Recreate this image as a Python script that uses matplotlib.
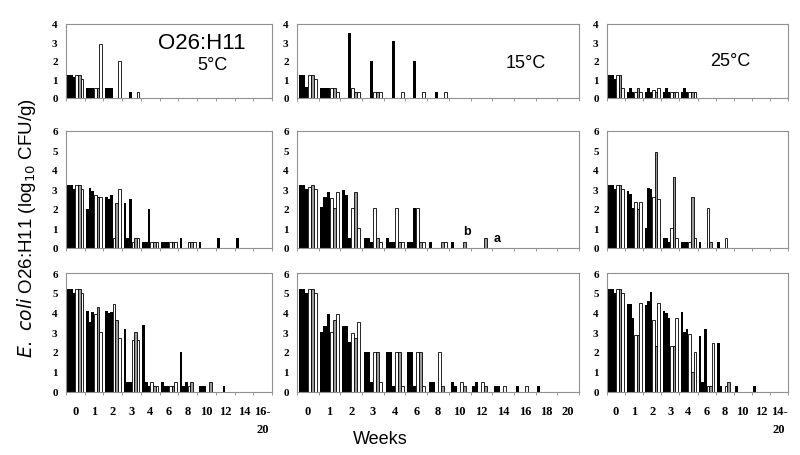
import matplotlib
matplotlib.use("Agg")
import matplotlib.pyplot as plt
import numpy as np

# categories (weeks)
weeks_5C = ["0", "1", "2", "3", "4", "6", "8", "10", "12", "14", "16-\n20"]
weeks_15C = ["0", "1", "2", "3", "4", "6", "8", "10", "12", "14", "16", "18", "20"]
weeks_25C = ["0", "1", "2", "3", "4", "6", "8", "10", "12", "14-\n20"]

# each row: one week, six replicate bars (3 filled, 3 open)
top_5C = [[1.2, 1.2, 1.1, 1.2, 1.2, 1.0],
          [0.5, 0.5, 0.5, 0.5, 0.5, 2.9],
          [0.5, 0.5, 0.5, 0, 0, 2.0],
          [0, 0, 0.3, 0, 0, 0.3]]
top_15C = [[1.2, 1.2, 0.55, 1.2, 1.2, 1.0],
           [0.5, 0.5, 0.5, 0.5, 0.5, 0.3],
           [0, 0, 3.5, 0.5, 0.3, 0.3],
           [0, 0, 2.0, 0.3, 0.3, 0.3],
           [0, 0, 3.1, 0, 0, 0.3],
           [0, 0, 2.0, 0, 0, 0.3],
           [0, 0, 0.3, 0, 0, 0.3]]
top_25C = [[1.2, 1.2, 1.0, 1.2, 1.2, 0.5],
           [0.3, 0.5, 0.3, 0.3, 0.5, 0.3],
           [0.3, 0.5, 0.3, 0.4, 0.3, 0.5],
           [0.3, 0.5, 0.3, 0.3, 0.3, 0.3],
           [0.3, 0.5, 0.3, 0.3, 0.3, 0.3]]

mid_5C = [[3.2, 3.2, 3.0, 3.2, 3.2, 3.0],
          [2.0, 3.05, 2.9, 2.7, 2.6, 2.6],
          [2.6, 2.5, 2.7, 0.5, 2.3, 3.0],
          [2.3, 0.5, 2.5, 0.3, 0.5, 0.5],
          [0.3, 0.3, 2.0, 0.3, 0.3, 0.3],
          [0.3, 0.3, 0.3, 0.3, 0.3, 0.3],
          [0.5, 0, 0, 0.3, 0.3, 0.3],
          [0.3, 0, 0, 0, 0, 0],
          [0.5, 0, 0, 0, 0, 0],
          [0.5, 0, 0, 0, 0, 0]]
mid_15C = [[3.2, 3.2, 3.0, 3.1, 3.2, 3.0],
           [2.1, 2.6, 2.85, 2.55, 2.05, 2.85],
           [2.95, 2.7, 0.5, 2.05, 2.85, 1.0],
           [0.5, 0.5, 0.3, 2.05, 0.5, 0.3],
           [0.5, 0.3, 0.3, 2.05, 0.3, 0.3],
           [0.3, 0.3, 2.05, 2.05, 0.3, 0.3],
           [0.3, 0, 0, 0, 0.3, 0.3],
           [0.3, 0, 0, 0, 0.3, 0],
           [0, 0, 0, 0, 0.5, 0]]
mid_25C = [[3.2, 3.2, 3.0, 3.2, 3.2, 3.0],
           [2.9, 2.75, 2.05, 2.35, 2.0, 2.35],
           [1.0, 3.05, 3.0, 2.6, 4.9, 2.5],
           [0.5, 0.5, 0.3, 1.0, 3.65, 0.5],
           [0.3, 0.3, 0.3, 0.3, 2.6, 0.5],
           [0.3, 0, 0, 2.05, 0.3, 0],
           [0.3, 0, 0, 0.5, 0, 0]]

bot_5C = [[5.2, 5.2, 5.0, 5.2, 5.2, 5.0],
          [4.1, 3.5, 4.05, 3.9, 4.3, 3.0],
          [4.1, 3.95, 4.05, 4.45, 3.6, 2.7],
          [3.15, 0.5, 0.5, 2.6, 3.0, 2.6],
          [3.35, 0.5, 0.3, 0.5, 0.3, 0.3],
          [0.5, 0.3, 0.3, 0.3, 0.3, 0.5],
          [2.0, 0.3, 0.5, 0.3, 0.5, 0],
          [0.3, 0.3, 0.3, 0, 0.5, 0],
          [0, 0, 0.3, 0, 0, 0]]
bot_15C = [[5.2, 5.2, 5.0, 5.2, 5.2, 5.0],
           [3.0, 3.3, 3.9, 3.0, 3.6, 3.9],
           [3.3, 3.3, 2.5, 2.95, 2.7, 3.5],
           [2.0, 2.0, 0.5, 2.0, 2.0, 0.5],
           [2.0, 2.0, 0.3, 2.0, 2.0, 0.3],
           [2.0, 2.0, 0.3, 2.0, 2.0, 0.3],
           [0.5, 0.5, 0, 2.0, 0.3, 0],
           [0.5, 0.3, 0, 0.5, 0.3, 0],
           [0.3, 0.5, 0, 0.5, 0.3, 0],
           [0.3, 0.3, 0, 0.3, 0, 0],
           [0.3, 0, 0, 0.3, 0, 0],
           [0.3, 0, 0, 0, 0, 0]]
bot_25C = [[5.2, 5.2, 5.0, 5.2, 5.2, 5.0],
           [4.45, 4.45, 3.7, 2.85, 2.85, 4.5],
           [4.4, 4.6, 5.05, 3.6, 2.3, 4.5],
           [4.1, 4.0, 3.7, 2.3, 2.3, 3.7],
           [4.05, 3.0, 3.15, 2.9, 1.0, 2.0],
           [2.8, 0.5, 3.15, 0.3, 0.3, 2.45],
           [2.45, 0.3, 0, 0.3, 0.5, 0],
           [0.3, 0, 0, 0, 0, 0],
           [0.3, 0, 0, 0, 0, 0]]

bar_colors = ["black", "black", "black", "white", "#9a9a9a", "white"]

W, H = 800, 456
fig = plt.figure(figsize=(8, 4.56), dpi=100)

col_x = [(66, 272), (297, 579), (607, 788)]
row_y = [(25, 98.5, 4), (131.7, 249, 6), (274, 392.5, 6)]
cats = [weeks_5C, weeks_15C, weeks_25C]
data = [[top_5C, top_15C, top_25C], [mid_5C, mid_15C, mid_25C], [bot_5C, bot_15C, bot_25C]]

serif = "Liberation Serif"
sans = "Liberation Sans"
bw = 0.14
axes = {}
for r, (yt, yb, ymax) in enumerate(row_y):
    for c, (xl, xr) in enumerate(col_x):
        ax = fig.add_axes([xl / W, 1 - yb / H, (xr - xl) / W, (yb - yt) / H])
        axes[(r, c)] = ax
        labels = cats[c]
        n = len(labels)
        vals = np.array(data[r][c], dtype=float)
        idx = np.arange(vals.shape[0])
        for j in range(6):
            col = bar_colors[j]
            ax.bar(idx + (j - 2.5) * bw, vals[:, j], width=bw, color=col,
                   edgecolor="black", linewidth=0.6 if col != "black" else 0)
        ax.set_xlim(-0.5, n - 0.5)
        ax.set_ylim(0, ymax)
        ax.set_yticks(range(ymax + 1))
        ax.set_yticklabels([str(v) for v in range(ymax + 1)], fontfamily=serif,
                           fontweight="bold", fontsize=8)
        ax.set_xticks(np.arange(n + 1) - 0.5, minor=True)
        ax.set_xticks(np.arange(n))
        if r == 2:
            ax.set_xticklabels(labels, fontfamily=serif, fontweight="bold",
                               fontsize=9, va="top", linespacing=1.6)
        else:
            ax.set_xticklabels([])
        ax.tick_params(axis="x", which="major", length=0, pad=10)
        ax.tick_params(axis="x", which="minor", length=2.5, color="#888888", width=0.6)
        ax.tick_params(axis="y", length=0, pad=6)
        for s in ax.spines.values():
            s.set_color("#909090")
            s.set_linewidth(0.8)

axes[(0, 0)].text(0.66, 0.755, "O26:H11", transform=axes[(0, 0)].transAxes,
                  fontfamily=sans, fontsize=16, ha="center", va="center")
axes[(0, 0)].text(0.71, 0.45, "5°C", transform=axes[(0, 0)].transAxes,
                  fontfamily=sans, fontsize=13, ha="center", va="center")
axes[(0, 1)].text(0.81, 0.47, "15°C", transform=axes[(0, 1)].transAxes,
                  fontfamily=sans, fontsize=13, ha="center", va="center")
axes[(0, 2)].text(0.68, 0.5, "25°C", transform=axes[(0, 2)].transAxes,
                  fontfamily=sans, fontsize=13, ha="center", va="center")
axes[(1, 1)].text(7.33, 0.87, "b", fontfamily=sans, fontweight="bold", fontsize=9,
                  ha="center", va="center")
axes[(1, 1)].text(8.72, 0.51, "a", fontfamily=sans, fontweight="bold", fontsize=9,
                  ha="center", va="center")

fig.text(27 / W, 1 - 228 / H, r"$\it{E.\ coli}$ O26:H11 (log$_{10}$ CFU/g)",
         rotation=90, ha="center", va="center", fontfamily=sans, fontsize=13.5)
fig.text(380 / W, 1 - 440 / H, "Weeks", ha="center", va="center",
         fontfamily=sans, fontsize=13)

fig.savefig("out.png", dpi=100)
